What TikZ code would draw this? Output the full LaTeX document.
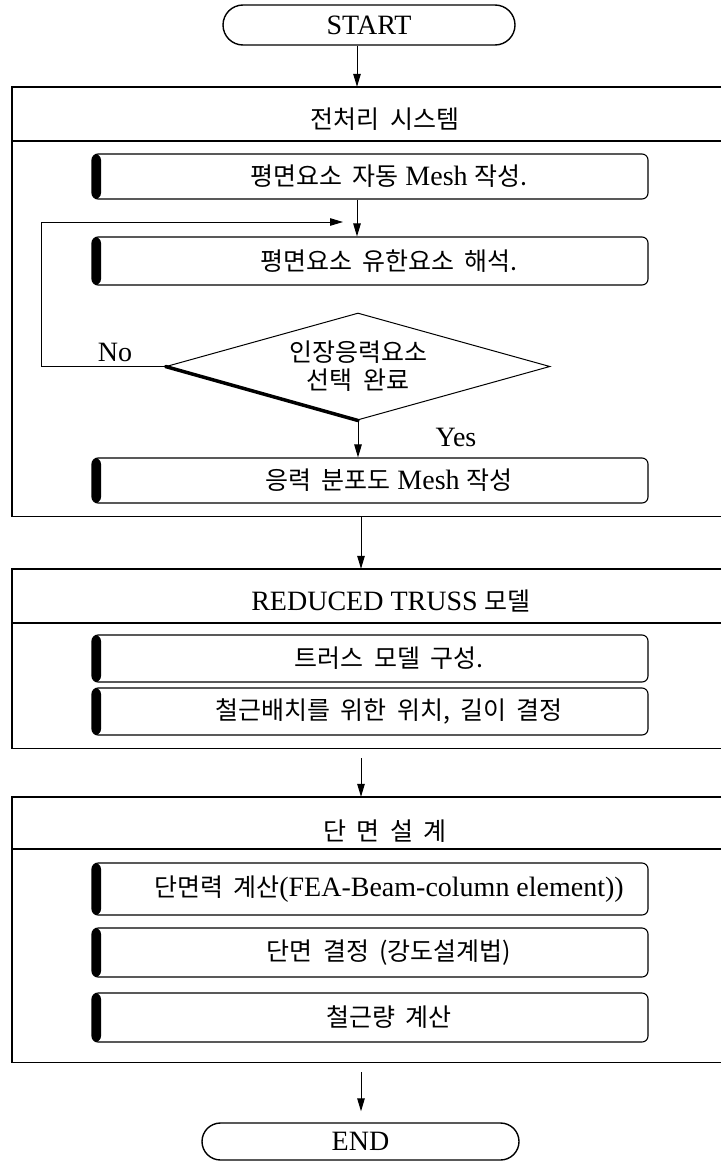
\documentclass[tikz,border=0pt]{standalone}
\usepackage{fontspec}
\setmainfont{Liberation Serif}
\newfontfamily\krfont{Noto Sans CJK KR}[WordSpace=1.8]
\usetikzlibrary{arrows.meta,shapes.geometric,shapes.misc}
\newcommand\K[1]{{\krfont\fontsize{25}{30}\selectfont #1}}
\begin{document}
\begin{tikzpicture}[x=1pt,y=-1pt,
  lat/.style={font=\fontsize{28}{30}\selectfont},
  arr/.style={line width=1pt,-{Triangle[length=13pt,width=7.5pt]}},
  grpline/.style={line width=1.4pt},
  grp/.style={inner sep=0pt,minimum width=709pt},
  procbox/.style={draw,line width=1.1pt,rounded corners=6pt,minimum width=556pt,inner sep=0pt,
    font=\fontsize{28}{30}\selectfont,
    path picture={\fill[black] (path picture bounding box.south west) rectangle ([xshift=9pt]path picture bounding box.north west);},
    execute at begin node={\hspace*{38pt}}},
  term/.style={draw,line width=1.4pt,rounded rectangle,inner sep=0pt,font=\fontsize{28}{30}\selectfont},
  hdr/.style={inner sep=0pt},
]
\useasboundingbox (0,0) rectangle (721,1162);
\coordinate (ax) at (357,0);
\coordinate (ax2) at (361,0);

% START
\node[term,minimum width=292pt,minimum height=40pt] (start) at (369,25) {START};

% group 1
\node[grp,minimum height=429pt] (g1) at (366.5,301.5) {};
\draw[grpline] (g1.north east) -- (g1.north west) -- (g1.south west) -- (g1.south east);
\draw[grpline] (12,141) -- (721,141);
\node[hdr] (h1) at (385,119) {\K{전처리 시스템}};
\node[procbox,minimum height=45pt] (b1) at (370,176.5) {\K{평면요소 자동} Mesh \K{작성.}};
\node[procbox,minimum height=48pt] (b2) at (370,261) {\K{평면요소 유한요소 해석.}};
\node[diamond,draw,line width=1pt,aspect=3.59,minimum width=384pt,minimum height=107pt,inner sep=0pt,align=center,
  font=\krfont\fontsize{25}{28}\selectfont] (dia) at (358,366.5) {인장응력요소\\선택 완료};
\draw[line width=3.5pt,line cap=round] (dia.west) -- (dia.south);
\node[procbox,minimum height=45pt] (b3) at (370,480.5) {\K{응력 분포도} Mesh \K{작성}};
\node[lat] (no) at (115,352) {No};
\node[lat] (yes) at (456,437) {Yes};
\coordinate (loopL) at (41,222);
\coordinate (loopE) at (343,222);

% group 2
\node[grp,minimum height=179pt] (g2) at (366.5,658.5) {};
\draw[grpline] (g2.north east) -- (g2.north west) -- (g2.south west) -- (g2.south east);
\draw[grpline] (12,623) -- (721,623);
\node[hdr,font=\fontsize{28}{30}\selectfont] (h2) at (391,601) {REDUCED TRUSS \K{모델}};
\node[procbox,minimum height=47pt] (bA) at (370,658.5) {\K{트러스 모델 구성.}};
\node[procbox,minimum height=47pt] (bB) at (370,711.5) {\K{철근배치를 위한 위치, 길이 결정}};

% group 3
\node[grp,minimum height=265pt] (g3) at (366.5,929.5) {};
\draw[grpline] (g3.north east) -- (g3.north west) -- (g3.south west) -- (g3.south east);
\draw[grpline] (12,849) -- (721,849);
\node[hdr] (h3) at (385,831) {\K{단 면 설 계}};
\node[procbox,minimum height=52pt] (bC) at (370,889) {\K{단면력 계산}(FEA-Beam-column element))};
\node[procbox,minimum height=49pt] (bD) at (370,952.5) {\K{단면 결정 (강도설계법)}};
\node[procbox,minimum height=49pt] (bE) at (370,1017.5) {\K{철근량 계산}};

% END
\node[term,minimum width=317pt,minimum height=37pt] (end) at (360.5,1141.5) {END};

% connectors
\draw[arr] (start.south -| ax) -- (g1.north -| ax);
\draw[arr] (b1.south -| ax) -- (b2.north -| ax);
\draw[arr] (dia.west) -| (loopL) -- (loopE);
\draw[arr] (dia.south) -- (b3.north -| dia.south);
\draw[arr] (g1.south -| ax2) -- (g2.north -| ax2);
\draw[arr,shorten <=10pt] (g2.south -| ax2) -- (g3.north -| ax2);
\draw[arr,shorten <=10pt,shorten >=11pt] (g3.south -| ax2) -- (end.north -| ax2);
\end{tikzpicture}
\end{document}
